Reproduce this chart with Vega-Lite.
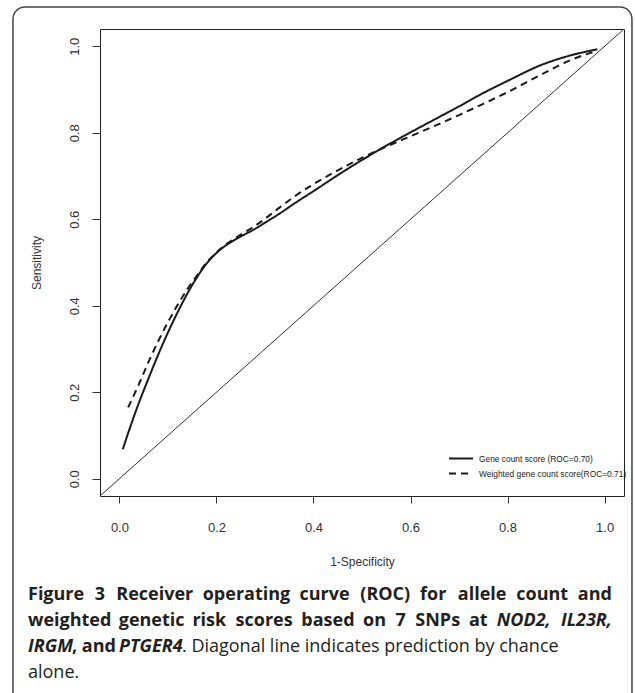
{
  "$schema": "https://vega.github.io/schema/vega-lite/v6.json",
  "width": 524,
  "height": 467,
  "padding": {"left": 12, "top": 6, "right": 0, "bottom": 0},
  "background": "white",
  "config": {
    "view": {"stroke": "#222", "strokeWidth": 1},
    "axis": {
      "grid": false, "domain": false,
      "labelFont": "Liberation Sans", "titleFont": "Liberation Sans",
      "labelFontSize": 13, "titleFontSize": 12, "titleFontWeight": "normal",
      "labelColor": "#333", "titleColor": "#333", "tickColor": "#333",
      "labelFlush": false, "labelOverlap": false
    },
    "text": {"font": "Open Sans", "fontSize": 18, "align": "left", "baseline": "alphabetic", "color": "#231f20", "clip": false}
  },
  "layer": [
    {
      "data": {"values": [{}]},
      "mark": {"type": "rect", "fill": null, "fillOpacity": 0, "stroke": "#444", "strokeWidth": 1.5, "cornerRadius": 12, "clip": false},
      "encoding": {
        "x": {"datum": -0.2194, "type": "quantitative", "scale": {"domain": [-0.04, 1.04], "nice": false, "zero": false}},
        "x2": {"datum": 1.0564},
        "y": {"datum": 1.0909, "type": "quantitative", "scale": {"domain": [-0.04, 1.04], "nice": false, "zero": false}},
        "y2": {"datum": -0.535}
      }
    },
    {
      "data": {"values": [{"fpr": -0.04, "tpr": -0.04}, {"fpr": 1.04, "tpr": 1.04}]},
      "mark": {"type": "line", "stroke": "#333", "strokeWidth": 1},
      "encoding": {
        "x": {"field": "fpr", "type": "quantitative", "scale": {"domain": [-0.04, 1.04], "nice": false, "zero": false}},
        "y": {"field": "tpr", "type": "quantitative", "scale": {"domain": [-0.04, 1.04], "nice": false, "zero": false}}
      }
    },
    {
      "data": {"values": [
        {"score": "Gene count score (ROC=0.70)", "fpr": 0.007, "tpr": 0.068},
        {"score": "Gene count score (ROC=0.70)", "fpr": 0.02, "tpr": 0.112},
        {"score": "Gene count score (ROC=0.70)", "fpr": 0.04, "tpr": 0.175},
        {"score": "Gene count score (ROC=0.70)", "fpr": 0.06, "tpr": 0.232},
        {"score": "Gene count score (ROC=0.70)", "fpr": 0.08, "tpr": 0.287},
        {"score": "Gene count score (ROC=0.70)", "fpr": 0.10, "tpr": 0.338},
        {"score": "Gene count score (ROC=0.70)", "fpr": 0.12, "tpr": 0.385},
        {"score": "Gene count score (ROC=0.70)", "fpr": 0.14, "tpr": 0.428},
        {"score": "Gene count score (ROC=0.70)", "fpr": 0.16, "tpr": 0.466},
        {"score": "Gene count score (ROC=0.70)", "fpr": 0.18, "tpr": 0.498},
        {"score": "Gene count score (ROC=0.70)", "fpr": 0.20, "tpr": 0.522},
        {"score": "Gene count score (ROC=0.70)", "fpr": 0.22, "tpr": 0.540},
        {"score": "Gene count score (ROC=0.70)", "fpr": 0.24, "tpr": 0.554},
        {"score": "Gene count score (ROC=0.70)", "fpr": 0.26, "tpr": 0.566},
        {"score": "Gene count score (ROC=0.70)", "fpr": 0.28, "tpr": 0.578},
        {"score": "Gene count score (ROC=0.70)", "fpr": 0.30, "tpr": 0.592},
        {"score": "Gene count score (ROC=0.70)", "fpr": 0.33, "tpr": 0.613},
        {"score": "Gene count score (ROC=0.70)", "fpr": 0.36, "tpr": 0.636},
        {"score": "Gene count score (ROC=0.70)", "fpr": 0.40, "tpr": 0.665},
        {"score": "Gene count score (ROC=0.70)", "fpr": 0.45, "tpr": 0.702},
        {"score": "Gene count score (ROC=0.70)", "fpr": 0.50, "tpr": 0.737},
        {"score": "Gene count score (ROC=0.70)", "fpr": 0.55, "tpr": 0.770},
        {"score": "Gene count score (ROC=0.70)", "fpr": 0.60, "tpr": 0.801},
        {"score": "Gene count score (ROC=0.70)", "fpr": 0.65, "tpr": 0.831},
        {"score": "Gene count score (ROC=0.70)", "fpr": 0.70, "tpr": 0.861},
        {"score": "Gene count score (ROC=0.70)", "fpr": 0.75, "tpr": 0.892},
        {"score": "Gene count score (ROC=0.70)", "fpr": 0.80, "tpr": 0.920},
        {"score": "Gene count score (ROC=0.70)", "fpr": 0.87, "tpr": 0.957},
        {"score": "Gene count score (ROC=0.70)", "fpr": 0.93, "tpr": 0.979},
        {"score": "Gene count score (ROC=0.70)", "fpr": 0.985, "tpr": 0.993},
        {"score": "Weighted gene count score(ROC=0.71)", "fpr": 0.018, "tpr": 0.165},
        {"score": "Weighted gene count score(ROC=0.71)", "fpr": 0.04, "tpr": 0.218},
        {"score": "Weighted gene count score(ROC=0.71)", "fpr": 0.06, "tpr": 0.270},
        {"score": "Weighted gene count score(ROC=0.71)", "fpr": 0.08, "tpr": 0.318},
        {"score": "Weighted gene count score(ROC=0.71)", "fpr": 0.10, "tpr": 0.362},
        {"score": "Weighted gene count score(ROC=0.71)", "fpr": 0.12, "tpr": 0.402},
        {"score": "Weighted gene count score(ROC=0.71)", "fpr": 0.14, "tpr": 0.438},
        {"score": "Weighted gene count score(ROC=0.71)", "fpr": 0.16, "tpr": 0.470},
        {"score": "Weighted gene count score(ROC=0.71)", "fpr": 0.18, "tpr": 0.500},
        {"score": "Weighted gene count score(ROC=0.71)", "fpr": 0.20, "tpr": 0.523},
        {"score": "Weighted gene count score(ROC=0.71)", "fpr": 0.22, "tpr": 0.542},
        {"score": "Weighted gene count score(ROC=0.71)", "fpr": 0.24, "tpr": 0.557},
        {"score": "Weighted gene count score(ROC=0.71)", "fpr": 0.26, "tpr": 0.571},
        {"score": "Weighted gene count score(ROC=0.71)", "fpr": 0.28, "tpr": 0.585},
        {"score": "Weighted gene count score(ROC=0.71)", "fpr": 0.30, "tpr": 0.601},
        {"score": "Weighted gene count score(ROC=0.71)", "fpr": 0.33, "tpr": 0.627},
        {"score": "Weighted gene count score(ROC=0.71)", "fpr": 0.36, "tpr": 0.652},
        {"score": "Weighted gene count score(ROC=0.71)", "fpr": 0.40, "tpr": 0.681},
        {"score": "Weighted gene count score(ROC=0.71)", "fpr": 0.45, "tpr": 0.713},
        {"score": "Weighted gene count score(ROC=0.71)", "fpr": 0.50, "tpr": 0.742},
        {"score": "Weighted gene count score(ROC=0.71)", "fpr": 0.55, "tpr": 0.768},
        {"score": "Weighted gene count score(ROC=0.71)", "fpr": 0.60, "tpr": 0.792},
        {"score": "Weighted gene count score(ROC=0.71)", "fpr": 0.65, "tpr": 0.816},
        {"score": "Weighted gene count score(ROC=0.71)", "fpr": 0.70, "tpr": 0.841},
        {"score": "Weighted gene count score(ROC=0.71)", "fpr": 0.75, "tpr": 0.867},
        {"score": "Weighted gene count score(ROC=0.71)", "fpr": 0.80, "tpr": 0.894},
        {"score": "Weighted gene count score(ROC=0.71)", "fpr": 0.87, "tpr": 0.935},
        {"score": "Weighted gene count score(ROC=0.71)", "fpr": 0.93, "tpr": 0.968},
        {"score": "Weighted gene count score(ROC=0.71)", "fpr": 0.985, "tpr": 0.990}
      ]},
      "mark": {"type": "line", "interpolate": "monotone", "stroke": "#1a1a1a", "strokeWidth": 2},
      "encoding": {
        "x": {"field": "fpr", "type": "quantitative",
          "scale": {"domain": [-0.04, 1.04], "nice": false, "zero": false},
          "axis": {"values": [0, 0.2, 0.4, 0.6, 0.8, 1.0], "format": ".1f", "title": "1-Specificity", "tickSize": 7, "labelPadding": 18, "titlePadding": 22}},
        "y": {"field": "tpr", "type": "quantitative",
          "scale": {"domain": [-0.04, 1.04], "nice": false, "zero": false},
          "axis": {"values": [0, 0.2, 0.4, 0.6, 0.8, 1.0], "format": ".1f", "title": "Sensitivity", "tickSize": 8, "labelAngle": 270, "labelAlign": "center", "labelBaseline": "bottom", "labelPadding": 11, "titlePadding": 25}},
        "strokeDash": {"field": "score", "type": "nominal",
          "scale": {"domain": ["Gene count score (ROC=0.70)", "Weighted gene count score(ROC=0.71)"], "range": [[1, 0], [7, 5]]},
          "legend": {"title": null, "orient": "none", "legendX": 348, "legendY": 423, "symbolType": "stroke", "symbolSize": 576, "symbolStrokeWidth": 2, "symbolStrokeColor": "#1a1a1a", "clipHeight": 13, "rowPadding": 2, "labelFont": "Liberation Sans", "labelFontSize": 8.4, "labelColor": "#222", "labelOffset": 5, "labelLimit": 400, "padding": 0}}
      }
    },
    {"data": {"values": [{}]}, "mark": {"type": "text", "fontWeight": "bold"}, "encoding": {"x": {"datum": -0.1884, "type": "quantitative"}, "y": {"datum": -0.2805, "type": "quantitative"}, "text": {"value": "Figure"}}},
    {"data": {"values": [{}]}, "mark": {"type": "text", "fontWeight": "bold"}, "encoding": {"x": {"datum": -0.0509, "type": "quantitative"}, "y": {"datum": -0.2805, "type": "quantitative"}, "text": {"value": "3"}}},
    {"data": {"values": [{}]}, "mark": {"type": "text", "fontWeight": "bold"}, "encoding": {"x": {"datum": -0.0064, "type": "quantitative"}, "y": {"datum": -0.2805, "type": "quantitative"}, "text": {"value": "Receiver"}}},
    {"data": {"values": [{}]}, "mark": {"type": "text", "fontWeight": "bold"}, "encoding": {"x": {"datum": 0.1717, "type": "quantitative"}, "y": {"datum": -0.2805, "type": "quantitative"}, "text": {"value": "operating"}}},
    {"data": {"values": [{}]}, "mark": {"type": "text", "fontWeight": "bold"}, "encoding": {"x": {"datum": 0.3712, "type": "quantitative"}, "y": {"datum": -0.2805, "type": "quantitative"}, "text": {"value": "curve"}}},
    {"data": {"values": [{}]}, "mark": {"type": "text", "fontWeight": "bold"}, "encoding": {"x": {"datum": 0.4965, "type": "quantitative"}, "y": {"datum": -0.2805, "type": "quantitative"}, "text": {"value": "(ROC)"}}},
    {"data": {"values": [{}]}, "mark": {"type": "text", "fontWeight": "bold"}, "encoding": {"x": {"datum": 0.6197, "type": "quantitative"}, "y": {"datum": -0.2805, "type": "quantitative"}, "text": {"value": "for"}}},
    {"data": {"values": [{}]}, "mark": {"type": "text", "fontWeight": "bold"}, "encoding": {"x": {"datum": 0.6974, "type": "quantitative"}, "y": {"datum": -0.2805, "type": "quantitative"}, "text": {"value": "allele"}}},
    {"data": {"values": [{}]}, "mark": {"type": "text", "fontWeight": "bold"}, "encoding": {"x": {"datum": 0.8180, "type": "quantitative"}, "y": {"datum": -0.2805, "type": "quantitative"}, "text": {"value": "count"}}},
    {"data": {"values": [{}]}, "mark": {"type": "text", "fontWeight": "bold", "align": "right"}, "encoding": {"x": {"datum": 1.0152, "type": "quantitative"}, "y": {"datum": -0.2805, "type": "quantitative"}, "text": {"value": "and"}}},
    {"data": {"values": [{}]}, "mark": {"type": "text", "fontWeight": "bold"}, "encoding": {"x": {"datum": -0.1884, "type": "quantitative"}, "y": {"datum": -0.3407, "type": "quantitative"}, "text": {"value": "weighted"}}},
    {"data": {"values": [{}]}, "mark": {"type": "text", "fontWeight": "bold"}, "encoding": {"x": {"datum": -0.0014, "type": "quantitative"}, "y": {"datum": -0.3407, "type": "quantitative"}, "text": {"value": "genetic"}}},
    {"data": {"values": [{}]}, "mark": {"type": "text", "fontWeight": "bold"}, "encoding": {"x": {"datum": 0.1504, "type": "quantitative"}, "y": {"datum": -0.3407, "type": "quantitative"}, "text": {"value": "risk"}}},
    {"data": {"values": [{}]}, "mark": {"type": "text", "fontWeight": "bold"}, "encoding": {"x": {"datum": 0.2394, "type": "quantitative"}, "y": {"datum": -0.3407, "type": "quantitative"}, "text": {"value": "scores"}}},
    {"data": {"values": [{}]}, "mark": {"type": "text", "fontWeight": "bold"}, "encoding": {"x": {"datum": 0.3749, "type": "quantitative"}, "y": {"datum": -0.3407, "type": "quantitative"}, "text": {"value": "based"}}},
    {"data": {"values": [{}]}, "mark": {"type": "text", "fontWeight": "bold"}, "encoding": {"x": {"datum": 0.5021, "type": "quantitative"}, "y": {"datum": -0.3407, "type": "quantitative"}, "text": {"value": "on"}}},
    {"data": {"values": [{}]}, "mark": {"type": "text", "fontWeight": "bold"}, "encoding": {"x": {"datum": 0.5690, "type": "quantitative"}, "y": {"datum": -0.3407, "type": "quantitative"}, "text": {"value": "7"}}},
    {"data": {"values": [{}]}, "mark": {"type": "text", "fontWeight": "bold"}, "encoding": {"x": {"datum": 0.6099, "type": "quantitative"}, "y": {"datum": -0.3407, "type": "quantitative"}, "text": {"value": "SNPs"}}},
    {"data": {"values": [{}]}, "mark": {"type": "text", "fontWeight": "bold"}, "encoding": {"x": {"datum": 0.7203, "type": "quantitative"}, "y": {"datum": -0.3407, "type": "quantitative"}, "text": {"value": "at"}}},
    {"data": {"values": [{}]}, "mark": {"type": "text", "fontWeight": "bold", "fontStyle": "italic"}, "encoding": {"x": {"datum": 0.7777, "type": "quantitative"}, "y": {"datum": -0.3407, "type": "quantitative"}, "text": {"value": "NOD2,"}}},
    {"data": {"values": [{}]}, "mark": {"type": "text", "fontWeight": "bold", "fontStyle": "italic", "align": "right"}, "encoding": {"x": {"datum": 1.0152, "type": "quantitative"}, "y": {"datum": -0.3407, "type": "quantitative"}, "text": {"value": "IL23R,"}}},
    {"data": {"values": [{}]}, "mark": {"type": "text", "fontWeight": "bold", "fontStyle": "italic"}, "encoding": {"x": {"datum": -0.1884, "type": "quantitative"}, "y": {"datum": -0.4008, "type": "quantitative"}, "text": {"value": "IRGM"}}},
    {"data": {"values": [{}]}, "mark": {"type": "text", "fontWeight": "bold"}, "encoding": {"x": {"datum": -0.0977, "type": "quantitative"}, "y": {"datum": -0.4008, "type": "quantitative"}, "text": {"value": ", and"}}},
    {"data": {"values": [{}]}, "mark": {"type": "text", "fontWeight": "bold", "fontStyle": "italic"}, "encoding": {"x": {"datum": -0.0008, "type": "quantitative"}, "y": {"datum": -0.4008, "type": "quantitative"}, "text": {"value": "PTGER4"}}},
    {"data": {"values": [{}]}, "mark": {"type": "text"}, "encoding": {"x": {"datum": 0.1290, "type": "quantitative"}, "y": {"datum": -0.4008, "type": "quantitative"}, "text": {"value": ". Diagonal line indicates prediction by chance"}}},
    {"data": {"values": [{}]}, "mark": {"type": "text"}, "encoding": {"x": {"datum": -0.1884, "type": "quantitative"}, "y": {"datum": -0.4609, "type": "quantitative"}, "text": {"value": "alone."}}}
  ]
}
